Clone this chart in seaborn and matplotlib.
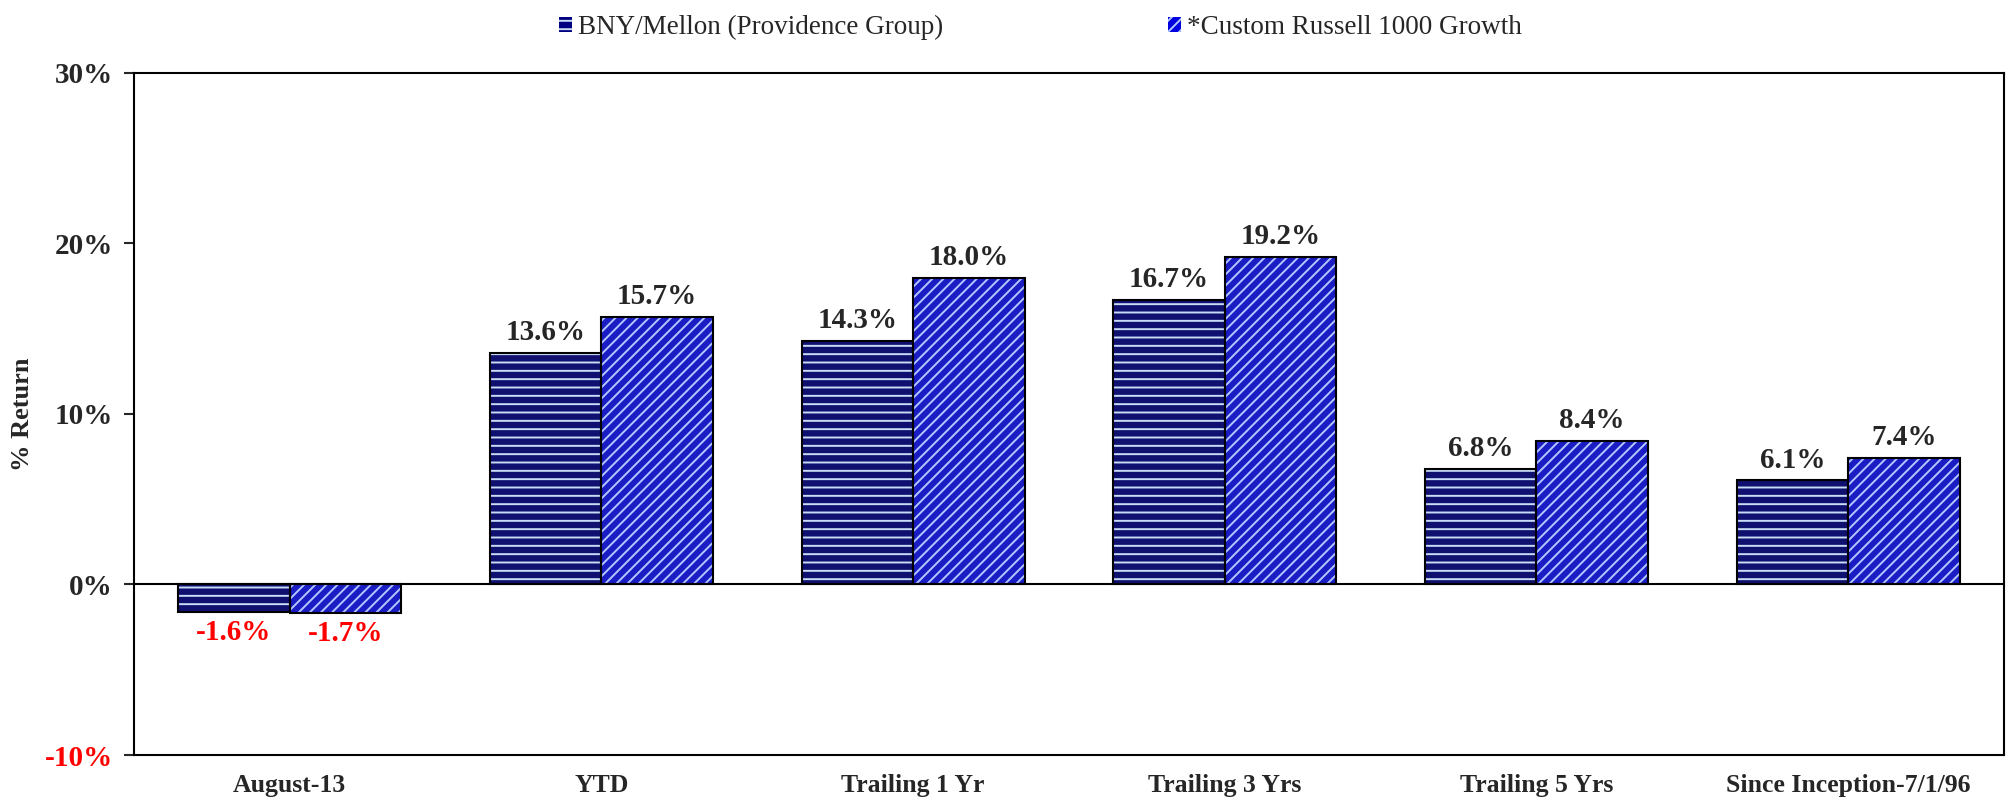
import numpy as np
import pandas as pd
import matplotlib
matplotlib.use("Agg")
import matplotlib.pyplot as plt
from matplotlib.patches import Patch, Rectangle
import seaborn as sns

# data
periods = ["August-13", "YTD", "Trailing 1 Yr", "Trailing 3 Yrs",
           "Trailing 5 Yrs", "Since Inception-7/1/96"]
bny = [-1.6, 13.6, 14.3, 16.7, 6.8, 6.1]
russell = [-1.7, 15.7, 18.0, 19.2, 8.4, 7.4]
series = ["BNY/Mellon (Providence Group)", "*Custom Russell 1000 Growth"]
yticks = [-10, 0, 10, 20, 30]

df = pd.DataFrame({
    "period": periods * 2,
    "ret": bny + russell,
    "series": [series[0]] * len(periods) + [series[1]] * len(periods),
})

sns.set_style("white")
plt.rcParams["font.family"] = ["Liberation Serif", "DejaVu Serif"]
plt.rcParams["hatch.linewidth"] = 1.4

face = ["#000080", "#0000e0"]
hatch_col = ["#c8dcf5", "#b0c8ff"]
hatches = ["--", "///"]

fig, ax = plt.subplots(figsize=(20.08, 8.02), dpi=100)
fig.subplots_adjust(left=0.0667, right=0.998, top=0.909, bottom=0.0586)

sns.barplot(data=df, x="period", y="ret", hue="series", order=periods,
            hue_order=series, palette=face, width=0.715, gap=0,
            legend=False, ax=ax, errorbar=None)

for i, cont in enumerate(ax.containers):
    for bar in cont:
        bar.set_hatch(hatches[i])
        bar.set_edgecolor(hatch_col[i])
        bar.set_linewidth(0)
        ax.add_patch(Rectangle((bar.get_x(), bar.get_y()), bar.get_width(),
                               bar.get_height(), fill=False,
                               edgecolor="black", lw=1.5, zorder=3))
    labels = ax.bar_label(cont, fmt="%.1f%%", padding=5, fontsize=21,
                          fontweight="bold")
    for t, v in zip(labels, cont.datavalues):
        if v < 0:
            t.set_color("red")

ax.axhline(0, color="black", lw=1.5, zorder=4)
ax.set_xlim(-0.5, len(periods) - 0.5)
ax.set_ylim(-10, 30)
ax.set_yticks(yticks)
ax.set_yticklabels([f"{v}%" for v in yticks], fontsize=21, fontweight="bold")
for t, v in zip(ax.get_yticklabels(), yticks):
    if v < 0:
        t.set_color("red")
ax.set_xticks(range(len(periods)))
ax.set_xticklabels(periods, fontsize=18.5, fontweight="bold")
ax.tick_params(axis="y", direction="out", length=7, width=1.5, pad=8, left=True)
ax.tick_params(axis="x", length=0, pad=14)
ax.set_xlabel("")
ax.set_ylabel("% Return", fontsize=19, fontweight="bold", labelpad=8)
for s in ax.spines.values():
    s.set_visible(True)
    s.set_color("black")
    s.set_linewidth(1.5)

handles = [Patch(facecolor=face[i], edgecolor=hatch_col[i], hatch=hatches[i],
                 lw=0) for i in range(2)]
fig.legend(handles, series, loc="upper center", bbox_to_anchor=(0.518, 1.012),
           ncol=2, frameon=False, fontsize=19.5, handlelength=0.5,
           handleheight=0.5, handletextpad=0.2, columnspacing=8.3)

fig.savefig("out.png", dpi=100)
